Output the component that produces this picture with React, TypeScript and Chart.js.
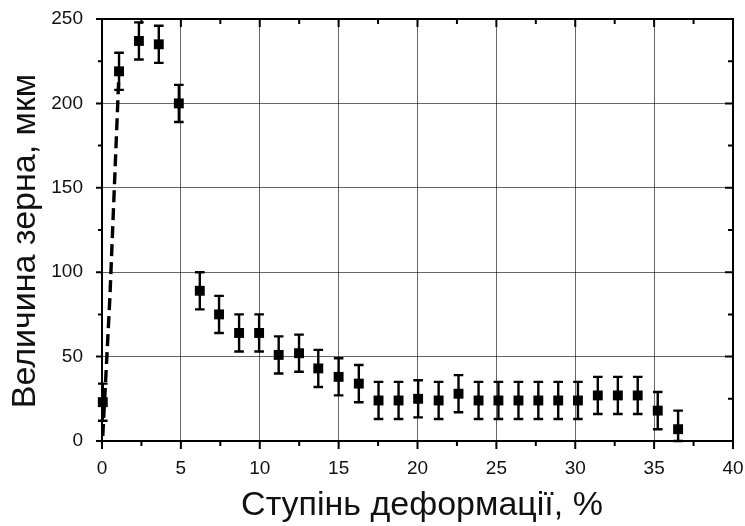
import React, { useEffect, useRef } from "react";
import { Chart, registerables } from "chart.js";

Chart.register(...registerables);

// Deformation degree, %
const strainPct = [0.05, 1.08, 2.34, 3.6, 4.87, 6.2, 7.42, 8.69, 9.96, 11.2, 12.49, 13.71, 15.0, 16.28, 17.53, 18.8, 20.04, 21.34, 22.6, 23.87, 25.13, 26.4, 27.66, 28.92, 30.17, 31.43, 32.7, 33.96, 35.23, 36.52];
// Grain size, µm
const grainSize = [23, 219, 237, 235, 200, 89, 75, 64, 64, 51, 52, 43, 38, 34, 24, 24, 25, 24, 28, 24, 24, 24, 24, 24, 24, 27, 27, 27, 18, 7];
// Half-width of the error bar, µm
const grainError = [11, 11, 11, 11, 11, 11, 11, 11, 11, 11, 11, 11, 11, 11, 11, 11, 11, 11, 11, 11, 11, 11, 11, 11, 11, 11, 11, 11, 11, 11];

// Dashed trend for the initial growth stage
const trendX = [0.05, 0.5, 1.08];
const trendY = [3, 85, 219];

const xTitle = "Ступінь деформації, %";
const yTitle = "Величина зерна, мкм";

const FONT = '"Liberation Sans", Arial, sans-serif';

const errorBarPlugin = {
  id: "errorBars",
  afterDatasetsDraw(chart: any) {
    const { ctx } = chart;
    const xs = chart.scales.x;
    const ys = chart.scales.y;
    const cap = 4.8;
    ctx.save();
    ctx.strokeStyle = "#000";
    ctx.lineWidth = 2.4;
    for (let i = 0; i < strainPct.length; i++) {
      const px = xs.getPixelForValue(strainPct[i]);
      const top = ys.getPixelForValue(grainSize[i] + grainError[i]);
      const bot = ys.getPixelForValue(Math.max(0, grainSize[i] - grainError[i]));
      ctx.beginPath();
      ctx.moveTo(px, top);
      ctx.lineTo(px, bot);
      ctx.moveTo(px - cap, top);
      ctx.lineTo(px + cap, top);
      ctx.moveTo(px - cap, bot);
      ctx.lineTo(px + cap, bot);
      ctx.stroke();
    }
    ctx.restore();
  },
};

const framePlugin = {
  id: "frame",
  afterDraw(chart: any) {
    const { ctx, chartArea: a } = chart;
    const xs = chart.scales.x;
    const ys = chart.scales.y;
    ctx.save();
    ctx.strokeStyle = "#000";
    ctx.lineWidth = 2;
    ctx.strokeRect(a.left, a.top, a.right - a.left, a.bottom - a.top);

    // x ticks: outward at bottom, inward at top
    for (let v = 0; v <= 40; v += 2.5) {
      const major = v % 5 === 0;
      const px = xs.getPixelForValue(v);
      ctx.beginPath();
      ctx.moveTo(px, a.bottom);
      ctx.lineTo(px, a.bottom + (major ? 8 : 5));
      ctx.moveTo(px, a.top);
      ctx.lineTo(px, a.top + (major ? 8 : 5));
      ctx.stroke();
    }
    // y ticks: outward at left, inward at right
    for (let v = 0; v <= 250; v += 25) {
      const major = v % 50 === 0;
      const py = ys.getPixelForValue(v);
      ctx.beginPath();
      ctx.moveTo(a.left, py);
      ctx.lineTo(a.left - (major ? 6 : 4), py);
      ctx.moveTo(a.right, py);
      ctx.lineTo(a.right - (major ? 8 : 5), py);
      ctx.stroke();
    }

    // axis titles
    ctx.fillStyle = "#111";
    ctx.font = `34px ${FONT}`;
    ctx.textAlign = "center";
    ctx.textBaseline = "middle";
    ctx.fillText(xTitle, 422, 506);
    ctx.translate(26, 241);
    ctx.rotate(-Math.PI / 2);
    ctx.fillText(yTitle, 0, 0);
    ctx.restore();
  },
};

export default function App() {
  const canvasRef = useRef<HTMLCanvasElement | null>(null);

  useEffect(() => {
    const canvas = canvasRef.current;
    if (!canvas) return;
    const chart = new Chart(canvas, {
      type: "scatter",
      data: {
        datasets: [
          {
            label: "grain",
            data: strainPct.map((x, i) => ({ x, y: grainSize[i] })),
            showLine: false,
            pointStyle: "rect",
            pointRadius: 7,
            pointHoverRadius: 7,
            backgroundColor: "#000",
            borderColor: "#000",
            borderWidth: 0,
            clip: false,
          },
          {
            label: "trend",
            data: trendX.map((x, i) => ({ x, y: trendY[i] })),
            showLine: true,
            borderColor: "#000",
            borderWidth: 3.4,
            borderDash: [12, 6],
            pointRadius: 0,
            tension: 0,
            fill: false,
          },
        ],
      },
      options: {
        responsive: false,
        animation: false,
        events: [],
        layout: { padding: { top: 19, right: 12, left: 0, bottom: 0 } },
        plugins: {
          legend: { display: false },
          tooltip: { enabled: false },
          title: { display: false },
        },
        scales: {
          x: {
            type: "linear",
            min: 0,
            max: 40,
            afterFit: (s: any) => {
              s.height = 85;
              s.paddingLeft = 0;
              s.paddingRight = 0;
            },
            border: { display: false },
            grid: { color: "rgba(0,0,0,0.6)", lineWidth: 1, drawTicks: false },
            ticks: {
              stepSize: 5,
              padding: 16,
              color: "#111",
              font: { family: FONT, size: 19 },
            },
          },
          y: {
            type: "linear",
            min: 0,
            max: 250,
            afterFit: (s: any) => {
              s.width = 102;
              s.paddingTop = 0;
              s.paddingBottom = 0;
            },
            border: { display: false },
            grid: { color: "rgba(0,0,0,0.6)", lineWidth: 1, drawTicks: false },
            ticks: {
              stepSize: 50,
              padding: 19,
              color: "#111",
              font: { family: FONT, size: 19 },
            },
          },
        },
      },
      plugins: [errorBarPlugin, framePlugin],
    });
    return () => chart.destroy();
  }, []);

  return (
    <div style={{ position: "fixed", left: 0, top: 0, width: 745, height: 526, background: "#fff" }}>
      <canvas ref={canvasRef} width={745} height={526} />
    </div>
  );
}
